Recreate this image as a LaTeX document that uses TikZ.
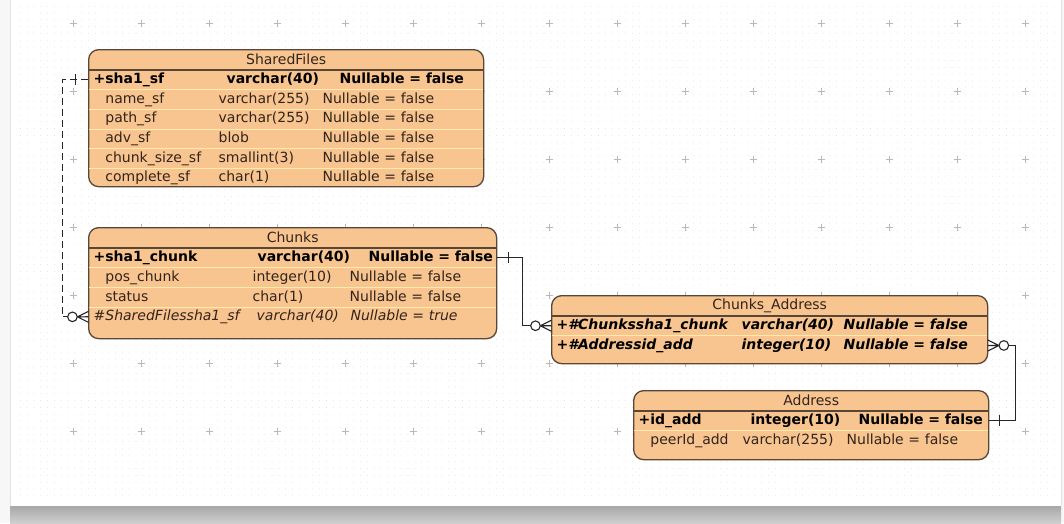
\documentclass[tikz,border=0pt]{standalone}
\usepackage{fontspec}
\setmainfont{DejaVu Sans}
\usetikzlibrary{positioning,calc,patterns.meta}

\definecolor{tblfill}{RGB}{248,196,144}
\definecolor{tbledge}{RGB}{88,70,55}
\definecolor{rowline}{RGB}{255,236,170}
\definecolor{txt}{RGB}{50,36,26}

% three columns of one table row
\newcommand{\ercols}[5]{\mbox{\makebox[#1][l]{#3}\makebox[#2][l]{#4}#5}}
\newcommand{\ind}{\phantom{+}}

\begin{document}
\begin{tikzpicture}[x=1pt, y=-1pt,
  font=\fontsize{14pt}{16pt}\selectfont,
  tbl/.style={draw=tbledge, fill=tblfill, line width=1.3pt, rounded corners=10pt,
    anchor=north west, inner sep=0pt},
  ttl/.style={minimum height=20.5pt, inner sep=0pt, text=txt},
  erow/.style={text width=#1, minimum height=19.3pt, inner xsep=5pt, inner ysep=0pt,
    align=left, text=txt},
  keyrow/.style={erow=#1, text=black, font=\fontsize{14pt}{16pt}\selectfont\bfseries},
  hdr/.style={draw=tbledge, line width=1.6pt},
  rowsep/.style={draw=rowline, line width=1pt, shorten <=1pt, shorten >=1pt},
  rel/.style={draw=black!85, line width=1.1pt},
  onebar/.pic={\draw[rel] (0,-5.5) -- (0,5.5);},
  crowfoot/.pic={\draw[rel] (-11,0) -- (0,-5.5) (-11,0) -- (0,0) (-11,0) -- (0,5.5);
    \draw[rel, fill=white] (-16,0) circle (4.8);},
]

% sheet, grid and shadow
\useasboundingbox (0,0) rectangle (1064,523);
\fill[gray!6] (0,0) rectangle (1064,523);
\shade[top color=gray!70, bottom color=gray!38] (10,505) rectangle (1061,523);
\fill[white] (10,0) rectangle (1061,506);
\draw[gray!22, line width=0.8pt] (10,0) -- (10,506) (1061,0) -- (1061,506);
\fill[pattern={Dots[distance=6.8pt, radius=0.45pt]}, pattern color=gray!28] (14,4) rectangle (1058,500);
\foreach \gx in {73,141,...,1030}
  \foreach \gy in {23,91,...,440}
    \draw[gray!55, line width=0.6pt] (\gx-3.5,\gy) -- (\gx+3.5,\gy) (\gx,\gy-3.5) -- (\gx,\gy+3.5);

% SharedFiles
\node[tbl, minimum width=395pt, minimum height=137pt] (sf) at (88,49) {};
\node[ttl, below=0pt of sf.north] (sft) {SharedFiles};
\node[keyrow=385pt, below=0pt of sft] (sf1) {\ercols{133pt}{113pt}{+sha1\_sf}{varchar(40)}{Nullable = false}};
\node[erow=385pt, below=0pt of sf1] (sf2) {\ercols{125pt}{104pt}{\ind name\_sf}{varchar(255)}{Nullable = false}};
\node[erow=385pt, below=0pt of sf2] (sf3) {\ercols{125pt}{104pt}{\ind path\_sf}{varchar(255)}{Nullable = false}};
\node[erow=385pt, below=0pt of sf3] (sf4) {\ercols{125pt}{104pt}{\ind adv\_sf}{blob}{Nullable = false}};
\node[erow=385pt, below=0pt of sf4] (sf5) {\ercols{125pt}{104pt}{\ind chunk\_size\_sf}{smallint(3)}{Nullable = false}};
\node[erow=385pt, below=0pt of sf5] (sf6) {\ercols{125pt}{104pt}{\ind complete\_sf}{char(1)}{Nullable = false}};
\draw[hdr] (sft.south -| sf.west) -- (sft.south -| sf.east);
\foreach \r in {sf1,sf2,sf3,sf4,sf5}
  \draw[rowsep] (\r.south west) -- (\r.south east);

% Chunks
\node[tbl, minimum width=408pt, minimum height=111pt] (ck) at (88,227) {};
\node[ttl, below=0pt of ck.north] (ckt) {Chunks};
\node[keyrow=398pt, below=0pt of ckt] (ck1) {\ercols{164pt}{111pt}{+sha1\_chunk}{varchar(40)}{Nullable = false}};
\node[erow=398pt, below=0pt of ck1] (ck2) {\ercols{159pt}{97pt}{\ind pos\_chunk}{integer(10)}{Nullable = false}};
\node[erow=398pt, below=0pt of ck2] (ck3) {\ercols{159pt}{97pt}{\ind status}{char(1)}{Nullable = false}};
\node[erow=398pt, below=0pt of ck3] (ck4) {\itshape\ercols{163pt}{94pt}{\#SharedFilessha1\_sf}{varchar(40)}{Nullable = true}};
\draw[hdr] (ckt.south -| ck.west) -- (ckt.south -| ck.east);
\foreach \r in {ck1,ck2,ck3}
  \draw[rowsep] (\r.south west) -- (\r.south east);

% Chunks_Address
\node[tbl, minimum width=436pt, minimum height=68pt] (ca) at (551,295) {};
\node[ttl, below=0pt of ca.north] (cat) {Chunks\_Address};
\node[keyrow=426pt, below=0pt of cat] (ca1) {\itshape\ercols{185pt}{102pt}{+\#Chunkssha1\_chunk}{varchar(40)}{Nullable = false}};
\node[keyrow=426pt, below=0pt of ca1] (ca2) {\itshape\ercols{185pt}{102pt}{+\#Addressid\_add}{integer(10)}{Nullable = false}};
\draw[hdr] (cat.south -| ca.west) -- (cat.south -| ca.east);
\draw[rowsep] (ca1.south west) -- (ca1.south east);

% Address
\node[tbl, minimum width=355pt, minimum height=69pt] (ad) at (633,390) {};
\node[ttl, below=0pt of ad.north] (adt) {Address};
\node[keyrow=345pt, below=0pt of adt] (ad1) {\ercols{112pt}{108pt}{+id\_add}{integer(10)}{Nullable = false}};
\node[erow=345pt, below=0pt of ad1] (ad2) {\ercols{104pt}{104pt}{\ind peerId\_add}{varchar(255)}{Nullable = false}};
\draw[hdr] (adt.south -| ad.west) -- (adt.south -| ad.east);
\draw[rowsep] (ad1.south west) -- (ad1.south east);

% relations
\draw[rel, dash pattern=on 7pt off 4pt] (sf1.west) -- ++(-26,0) |- (ck4.west);
\pic at ($(sf1.west)+(-13,0)$) {onebar};
\pic at (ck4.west) {crowfoot};

\draw[rel] (ck1.east) -- ++(26,0) |- (ca1.west);
\pic at ($(ck1.east)+(12,0)$) {onebar};
\pic at (ca1.west) {crowfoot};

\draw[rel] (ad1.east) -- ++(27,0) |- (ca2.east);
\pic at ($(ad1.east)+(11,0)$) {onebar};
\pic[rotate=180] at (ca2.east) {crowfoot};

\end{tikzpicture}
\end{document}
